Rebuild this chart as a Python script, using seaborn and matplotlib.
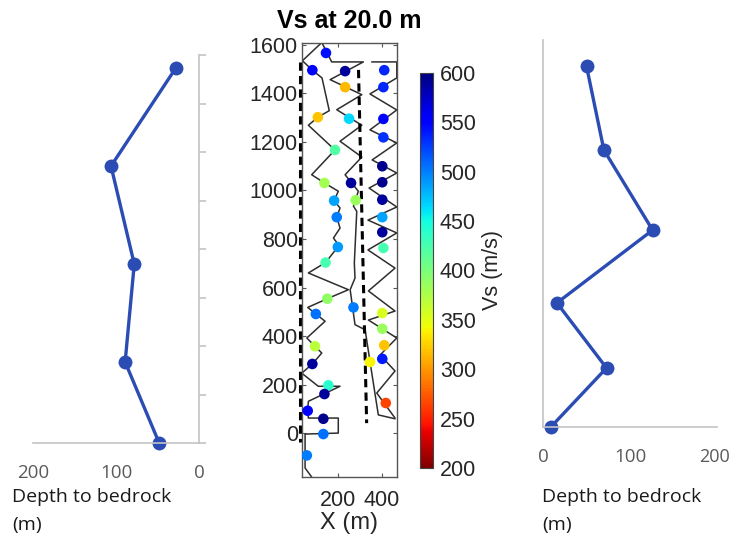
import matplotlib
matplotlib.use("Agg")
import matplotlib.pyplot as plt
import seaborn as sns
from matplotlib.colors import Normalize
from matplotlib.cm import ScalarMappable
from matplotlib.transforms import ScaledTranslation

# ---------------- data ----------------
# side profiles: depth to bedrock (m) vs. position along profile
left_depth = [28, 106, 78, 89, 48]
left_pos = [1546, 1142, 738, 334, 0]
right_depth = [50, 70, 126, 16, 73, 9]
right_pos = [1492, 1145, 814, 513, 244, 0]
side_ticks = [0, 200, 400, 600, 800, 1000, 1200, 1400, 1600]
left_xticks = [200, 100, 0]
right_xticks = [0, 100, 200]

# middle map: measurement points, Vs at 20 m
pt_x = [145, 83, 108, 186, 138, 182, 194, 199, 143, 151, 99, 95, 83, 156, 138, 62, 133, 133, 58,
        232, 232, 250, 259, 280, 270, 345,
        410, 406, 406, 406, 401, 401, 401, 401, 401, 406, 401, 401, 410, 401, 417]
pt_y = [1567, 1496, 1302, 1167, 1031, 958, 890, 767, 703, 554, 491, 358, 285, 197, 161, 92, 59, -4, -92,
        1492, 1426, 1296, 1031, 960, 518, 293,
        1496, 1426, 1295, 1219, 1100, 1034, 962, 890, 828, 763, 495, 430, 362, 306, 124]
pt_vs = [545, 550, 320, 420, 380, 485, 500, 490, 425, 390, 505, 370, 590, 440, 590, 555, 595, 505, 500,
         590, 315, 465, 590, 385, 500, 340,
         535, 535, 555, 530, 595, 595, 590, 485, 590, 425, 355, 385, 320, 540, 265]

# survey lines (zig-zag tracks)
line_a_x = [126, 38, 83, 127, 160, 108, 65, 186, 80, 138, 201, 182, 209, 194, 209, 179, 201, 199, 143, 65,
            247, 151, 62, 99, 141, 58, 95, 126, 83, 35, 110, 209, 65, 62, 65, 201, 201, 50, 50, 80]
line_a_y = [1610, 1535, 1496, 1464, 1329, 1302, 1269, 1167, 1065, 1031, 997, 958, 928, 890, 845, 804, 777, 767,
            703, 660, 591, 554, 518, 491, 461, 392, 358, 330, 285, 247, 193, 193, 131, 92, 62, 62, 0, -4, -144, -181]
line_b_x = [126, 171, 315, 164, 308, 194, 308, 209, 308, 232, 292, 270, 285, 274, 277, 255, 277, 323, 345, 383, 459]
line_b_y = [1610, 1530, 1530, 1457, 1395, 1333, 1269, 1203, 1138, 1065, 997, 935, 914, 701, 639, 591, 447, 426,
            296, 75, 59]
line_c_x = [353, 467, 467, 345, 467, 345, 467, 355, 467, 341, 467, 336, 467, 336, 459, 338, 459, 338, 467, 391,
            459, 376, 459]
line_c_y = [1530, 1530, 1464, 1398, 1332, 1250, 1196, 1126, 1072, 1010, 932, 878, 825, 755, 680, 586, 503, 466,
            392, 322, 256, 165, 62]

# dashed reference lines
dash1_x = [27, 27]
dash1_y = [1530, -37]
dash2_x = [293, 330]
dash2_y = [1497, 41]

mid_yticks = [0, 200, 400, 600, 800, 1000, 1200, 1400, 1600]
mid_xticks = [200, 400]
cbar_ticks = [200, 250, 300, 350, 400, 450, 500, 550, 600]

# ---------------- figure ----------------
sns.set_theme(style="white")
plt.rcParams["font.family"] = ["Liberation Sans", "DejaVu Sans"]

W, H = 731, 541
fig = plt.figure(figsize=(W / 100, H / 100), dpi=100)


def box(l, t, r, b):
    return [l / W, 1 - b / H, (r - l) / W, (b - t) / H]


side_color = "#2b4cb3"
gray = "#c3c3c3"
side_font = "Open Sans"

# ----- left panel -----
ax_l = fig.add_axes(box(33, 55, 199, 443))
sns.lineplot(x=left_depth, y=left_pos, sort=False, estimator=None, ax=ax_l, color=side_color,
             lw=2.4, marker="o", markersize=10, markeredgewidth=0, clip_on=False)
ax_l.set_xlim(200, 0)
ax_l.set_ylim(0, 1600)
for s in ["top", "left"]:
    ax_l.spines[s].set_visible(False)
for s in ["right", "bottom"]:
    ax_l.spines[s].set_color(gray)
    ax_l.spines[s].set_linewidth(1.2)
ax_l.yaxis.tick_right()
ax_l.set_yticks(side_ticks)
ax_l.set_yticklabels([])
ax_l.set_xticks(left_xticks)
ax_l.set_xticklabels([str(v) for v in left_xticks], fontfamily=side_font)
ax_l.tick_params(axis="both", direction="out", length=5, width=1.2, color=gray,
                 labelcolor="#5a5a5a", labelsize=13.5, pad=10)
ax_l.set_xlabel("")
ax_l.set_ylabel("")

# ----- right panel -----
ax_r = fig.add_axes(box(543, 40, 717, 427))
sns.lineplot(x=right_depth, y=right_pos, sort=False, estimator=None, ax=ax_r, color=side_color,
             lw=2.4, marker="o", markersize=10, markeredgewidth=0, clip_on=False)
ax_r.set_xlim(0, 200)
ax_r.set_ylim(0, 1600)
for s in ["top", "right"]:
    ax_r.spines[s].set_visible(False)
for s in ["left", "bottom"]:
    ax_r.spines[s].set_color(gray)
    ax_r.spines[s].set_linewidth(1.2)
ax_r.set_yticks(side_ticks)
ax_r.set_yticklabels([])
ax_r.set_xticks(right_xticks)
ax_r.set_xticklabels([str(v) for v in right_xticks], fontfamily=side_font)
ax_r.tick_params(axis="both", direction="out", length=5, width=1.2, color=gray,
                 labelcolor="#5a5a5a", labelsize=13.5, pad=10)
last = ax_r.get_xticklabels()[-1]
last.set_fontsize(13)
last.set_transform(last.get_transform() + ScaledTranslation(-2 / 100, 0, fig.dpi_scale_trans))
ax_r.set_xlabel("")
ax_r.set_ylabel("")

for xpx in (12, 542):
    fig.text(xpx / W, 1 - 497 / H, "Depth to bedrock", fontsize=14, fontfamily=side_font,
             color="#1a1a1a", va="center", ha="left")
    fig.text(xpx / W, 1 - 525 / H, "(m)", fontsize=14, fontfamily=side_font,
             color="#1a1a1a", va="center", ha="left")

# ----- middle map -----
ax_m = fig.add_axes(box(302, 43, 397, 477))
track_kw = dict(sort=False, estimator=None, ax=ax_m, color="#2e2e2e", lw=1.1)
sns.lineplot(x=line_a_x, y=line_a_y, **track_kw)
sns.lineplot(x=line_b_x, y=line_b_y, **track_kw)
sns.lineplot(x=line_c_x, y=line_c_y, **track_kw)
sns.lineplot(x=dash1_x, y=dash1_y, sort=False, estimator=None, ax=ax_m, color="black", lw=2.2,
             clip_on=False)
ax_m.lines[-1].set_dashes([2.7, 1.7])
sns.lineplot(x=dash2_x, y=dash2_y, sort=False, estimator=None, ax=ax_m, color="black", lw=2.2)
ax_m.lines[-1].set_dashes([2.7, 1.7])
sns.scatterplot(x=pt_x, y=pt_y, hue=pt_vs, palette="jet_r", hue_norm=(200, 600), s=58,
                linewidth=0, legend=False, ax=ax_m, zorder=3)

ax_m.set_xlim(36, 468)
ax_m.set_ylim(-181, 1608)
ax_m.set_xticks(mid_xticks)
ax_m.set_yticks(mid_yticks)
ax_m.tick_params(axis="both", which="both", direction="in", length=3, width=0.8, color="#555555",
                 labelsize=15.5, labelcolor="#262626", top=True, right=True, bottom=True, left=True,
                 pad=3)
ax_m.tick_params(axis="x", pad=9)
for s in ax_m.spines.values():
    s.set_color("#555555")
    s.set_linewidth(1.0)
ax_m.set_xlabel("X (m)", fontsize=17, color="#262626", labelpad=1)
ax_m.set_ylabel("")
ax_m.set_title("Vs at 20.0 m", fontsize=18, fontweight="bold", color="black", pad=11)

# ----- colorbar -----
cax = fig.add_axes(box(420, 73, 433, 468))
sm = ScalarMappable(norm=Normalize(200, 600), cmap="jet_r")
cb = fig.colorbar(sm, cax=cax, ticks=cbar_ticks)
cb.outline.set_edgecolor("#444444")
cb.outline.set_linewidth(0.8)
cax.tick_params(direction="in", length=2, width=0.8, color="#333333", labelsize=15.5,
                labelcolor="#262626", pad=5)
cb.set_label("Vs (m/s)", fontsize=15.5, color="#262626", labelpad=4)

fig.savefig("out.png", dpi=100)
